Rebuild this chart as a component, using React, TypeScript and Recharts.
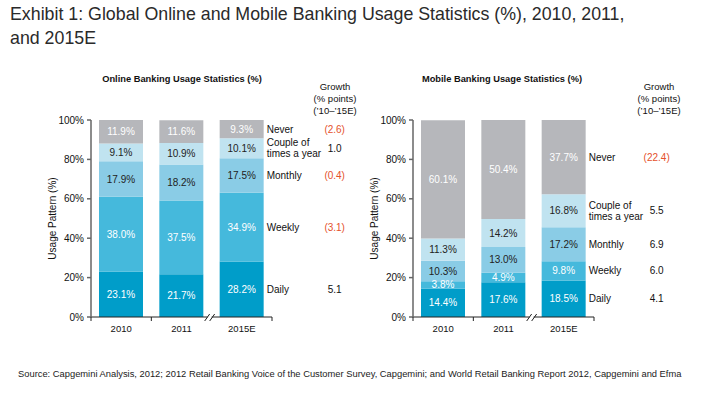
import React from 'react';
import { BarChart, Bar, XAxis, YAxis, LabelList } from 'recharts';

const years = ['2010', '2011', '2015E'];
const seriesNames = ['Daily', 'Weekly', 'Monthly', 'Couple of times a year', 'Never'];

const onlineDaily = [23.1, 21.7, 28.2];
const onlineWeekly = [38.0, 37.5, 34.9];
const onlineMonthly = [17.9, 18.2, 17.5];
const onlineCouple = [9.1, 10.9, 10.1];
const onlineNever = [11.9, 11.6, 9.3];
const onlineGrowth = [5.1, -3.1, -0.4, 1.0, -2.6];

const mobileDaily = [14.4, 17.6, 18.5];
const mobileWeekly = [3.8, 4.9, 9.8];
const mobileMonthly = [10.3, 13.0, 17.2];
const mobileCouple = [11.3, 14.2, 16.8];
const mobileNever = [60.1, 50.4, 37.7];
const mobileGrowth = [4.1, 6.0, 6.9, 5.5, -22.4];

const yTicks = [0, 20, 40, 60, 80, 100];

const keys = ['daily', 'weekly', 'monthly', 'couple', 'never'];
const colors = ['#009dc9', '#45b9dc', '#8acce6', '#c0e3f0', '#b6b7bb'];
const textColors = ['#fff', '#fff', '#222', '#222', '#fff'];

const FONT = '"Liberation Sans", Arial, Helvetica, sans-serif';

function buildRows(cols: number[][]) {
  return years.map((year, i) => {
    const row: Record<string, string | number> = { year };
    keys.forEach((k, s) => {
      row[k] = cols[s][i];
    });
    return row;
  });
}

const onlineData = buildRows([onlineDaily, onlineWeekly, onlineMonthly, onlineCouple, onlineNever]);
const mobileData = buildRows([mobileDaily, mobileWeekly, mobileMonthly, mobileCouple, mobileNever]);

function fmtGrowth(v: number) {
  return v < 0 ? `(${Math.abs(v).toFixed(1)})` : v.toFixed(1);
}

function makeLabel(s: number, growth: number[]) {
  return (props: any) => {
    const vb = props.viewBox && props.viewBox.width != null ? props.viewBox : props;
    const x = Number(vb.x);
    const y = Number(vb.y);
    const w = Number(vb.width);
    const h = Number(vb.height);
    const cy = y + h / 2;
    const idx = props.index;
    const name = seriesNames[s];
    const g = growth[s];
    return (
      <g>
        <text x={x + w / 2} y={cy + 3.5} textAnchor="middle" fontSize={10} fill={textColors[s]} fontFamily={FONT}>
          {`${Number(props.value).toFixed(1)}%`}
        </text>
        {idx === years.length - 1 && (
          <g fontFamily={FONT} fontSize={10}>
            {name === 'Couple of times a year' ? (
              <text x={x + w + 3} y={cy - 2} fill="#111">
                <tspan x={x + w + 3}>Couple of</tspan>
                <tspan x={x + w + 3} dy={11}>times a year</tspan>
              </text>
            ) : (
              <text x={x + w + 3} y={cy + 3.5} fill="#111">{name}</text>
            )}
            <text x={x + w + 71} y={cy + 3.5} textAnchor="middle" fill={g < 0 ? '#e5512b' : '#111'}>
              {fmtGrowth(g)}
            </text>
          </g>
        )}
      </g>
    );
  };
}

function YearTick(props: any) {
  const { x, y, payload, index } = props;
  const half = payload && payload.offset ? payload.offset : 30;
  const bx = x + half;
  return (
    <g>
      <text x={x} y={y + 15} textAnchor="middle" fontSize={9.5} fill="#111" fontFamily={FONT}>
        {payload.value}
      </text>
      {index === 0 && <line x1={x - half} y1={y} x2={x - half} y2={y + 4} stroke="#222" strokeWidth={1} />}
      {index === 1 ? (
        <g>
          <rect x={bx - 4} y={y - 2} width={4} height={4} fill="#fff" />
          <line x1={bx - 7} y1={y + 4} x2={bx - 2} y2={y - 3} stroke="#222" strokeWidth={1} />
          <line x1={bx - 2} y1={y + 4} x2={bx + 3} y2={y - 3} stroke="#222" strokeWidth={1} />
        </g>
      ) : (
        <line x1={bx} y1={y} x2={bx} y2={y + 4} stroke="#222" strokeWidth={1} />
      )}
    </g>
  );
}

function StackChart(props: {
  data: any[];
  growth: number[];
  width: number;
  marginLeft: number;
  axisWidth: number;
  marginRight: number;
  labelOffset: number;
}) {
  const { data, growth, width, marginLeft, axisWidth, marginRight, labelOffset } = props;
  return (
    <BarChart
      width={width}
      height={340}
      data={data}
      margin={{ top: 120, right: marginRight, left: marginLeft, bottom: 3 }}
      barSize={44}
    >
      <XAxis
        dataKey="year"
        height={20}
        tickLine={false}
        tickSize={0}
        tickMargin={0}
        axisLine={{ stroke: '#222', strokeWidth: 1 }}
        tick={<YearTick />}
        interval={0}
      />
      <YAxis
        width={axisWidth}
        domain={[0, 100]}
        allowDataOverflow
        ticks={yTicks}
        tickFormatter={(v) => `${v}%`}
        tickSize={4}
        tickMargin={3}
        axisLine={{ stroke: '#666', strokeWidth: 1.5 }}
        tickLine={{ stroke: '#666', strokeWidth: 1.5 }}
        tick={{ fontSize: 10, fill: '#111', fontFamily: FONT }}
        label={{
          value: 'Usage Pattern (%)',
          angle: -90,
          position: 'insideLeft',
          offset: labelOffset,
          style: { textAnchor: 'middle', fontSize: 10, fill: '#111', fontFamily: FONT },
        }}
      />
      {keys.map((k, s) => (
        <Bar key={k} dataKey={k} stackId="a" fill={colors[s]} isAnimationActive={false}>
          <LabelList dataKey={k} content={makeLabel(s, growth)} />
        </Bar>
      ))}
    </BarChart>
  );
}

function GrowthHeader(props: { left: number }) {
  return (
    <div
      style={{
        position: 'absolute',
        left: props.left - 40,
        top: 81,
        width: 80,
        textAlign: 'center',
        fontSize: 9.5,
        lineHeight: '12px',
        color: '#111',
        fontFamily: FONT,
      }}
    >
      Growth
      <br />
      (% points)
      <br />
      (’10–’15E)
    </div>
  );
}

export default function App() {
  return (
    <div
      style={{
        position: 'absolute',
        left: 0,
        top: 0,
        width: 707,
        height: 394,
        background: '#fff',
        fontFamily: FONT,
        overflow: 'hidden',
      }}
    >
      <div
        style={{
          position: 'absolute',
          left: 10,
          top: 3,
          fontSize: 17.8,
          lineHeight: '23.6px',
          color: '#2a2a2a',
          whiteSpace: 'nowrap',
        }}
      >
        Exhibit 1: Global Online and Mobile Banking Usage Statistics (%), 2010, 2011,
        <br />
        and 2015E
      </div>

      <div
        style={{
          position: 'absolute',
          left: 82,
          top: 74,
          width: 200,
          textAlign: 'center',
          fontSize: 9.3,
          fontWeight: 'bold',
          color: '#111',
        }}
      >
        Online Banking Usage Statistics (%)
      </div>
      <div
        style={{
          position: 'absolute',
          left: 402,
          top: 74,
          width: 200,
          textAlign: 'center',
          fontSize: 9.3,
          fontWeight: 'bold',
          color: '#111',
        }}
      >
        Mobile Banking Usage Statistics (%)
      </div>
      <GrowthHeader left={335} />
      <GrowthHeader left={659} />

      <div style={{ position: 'absolute', left: 0, top: 0 }}>
        <StackChart
          data={onlineData}
          growth={onlineGrowth}
          width={370}
          marginLeft={41}
          axisWidth={50}
          marginRight={98}
          labelOffset={11}
        />
      </div>
      <div style={{ position: 'absolute', left: 360, top: 0 }}>
        <StackChart
          data={mobileData}
          growth={mobileGrowth}
          width={347}
          marginLeft={8}
          axisWidth={45}
          marginRight={113}
          labelOffset={6}
        />
      </div>

      <div
        style={{
          position: 'absolute',
          left: 18,
          top: 369,
          fontSize: 9.35,
          color: '#222',
          whiteSpace: 'nowrap',
        }}
      >
        Source: Capgemini Analysis, 2012; 2012 Retail Banking Voice of the Customer Survey, Capgemini; and World Retail
        Banking Report 2012, Capgemini and Efma
      </div>
    </div>
  );
}
